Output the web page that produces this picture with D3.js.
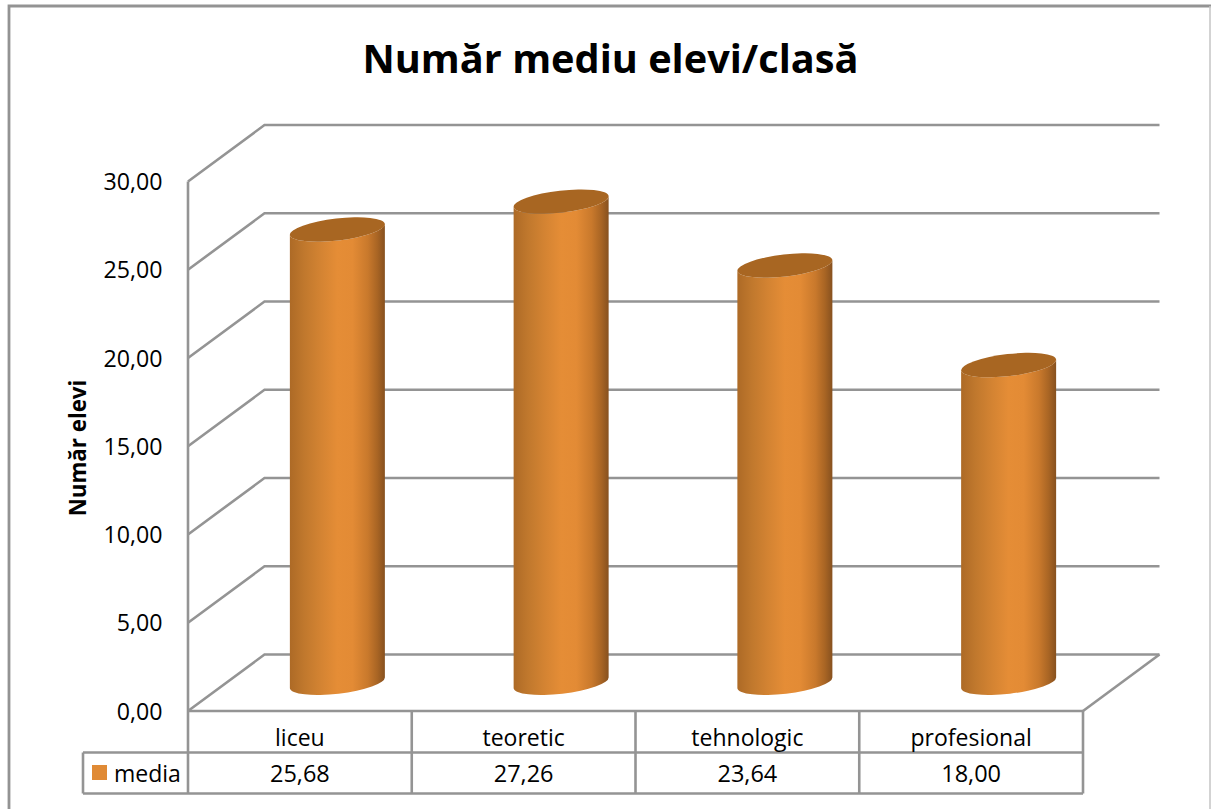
<!DOCTYPE html>
<html><head><meta charset="utf-8">
<script src="https://cdn.jsdelivr.net/npm/d3@7"></script>
<style>html,body{margin:0;padding:0;background:#fff}svg{display:block}text{font-family:"Open Sans",sans-serif;fill:#000}</style>
</head><body><svg id="c" width="1211" height="809"></svg>
<script>
const categories = ["liceu","teoretic","tehnologic","profesional"];
const values = [25.68,27.26,23.64,18.00];
const valueLabels = ["25,68","27,26","23,64","18,00"];
const yTicks = [0,5,10,15,20,25,30];
const seriesName = "media";
const titleText = "Număr mediu elevi/clasă";
const yTitle = "Număr elevi";
const GRID = "#949494";

const svg = d3.select("#c");
const depthX = 76.5, depthY = -56.5;
const x = d3.scaleBand().domain(categories).range([188,1083]);
const y = d3.scaleLinear().domain([0,30]).range([711,181.5]);
const fmt = d => d3.format(".2f")(d).replace(".", ",");

// frame
svg.append("path").attr("d","M9,809V6H1211").attr("fill","none").attr("stroke","#939393").attr("stroke-width",2.8);
svg.append("path").attr("d","M1210,6V809").attr("fill","none").attr("stroke","#c4c4c4").attr("stroke-width",1.5);

// title
svg.append("text").attr("x",610.5).attr("y",73).attr("text-anchor","middle").attr("font-size",39.7).attr("font-weight",700).text(titleText);

// gridlines
const g = svg.append("g").attr("fill","none").attr("stroke",GRID).attr("stroke-width",2.6);
yTicks.forEach(t=>{
  const y0=y(t);
  g.append("path").attr("d",`M188,${y0}L${188+depthX},${y0+depthY}H${1083+depthX}`);
});
g.append("path").attr("d",`M188,${y(30)}V${y(0)}`);
g.append("path").attr("d",`M1083,${y(0)}L${1083+depthX},${y(0)+depthY}`);

// y labels
svg.append("g").selectAll("text").data(yTicks).join("text")
  .attr("x",162.5).attr("y",d=>y(d)+8.5).attr("text-anchor","end").attr("font-size",23.2).text(fmt);
svg.append("text").attr("transform","translate(86,448) rotate(-90)").attr("text-anchor","middle")
  .attr("font-size",22.3).attr("font-weight",700).text(yTitle);

// gradient
const defs = svg.append("defs");
const grad = defs.append("linearGradient").attr("id","cyl");
[[0,"#ad6a26"],[0.15,"#c0782d"],[0.32,"#d38332"],[0.5,"#e58d36"],[0.66,"#e38b35"],[0.82,"#c9792c"],[0.92,"#a96524"],[1,"#87511f"]]
  .forEach(([o,c])=>grad.append("stop").attr("offset",o).attr("stop-color",c));

// cylinders
const rw=47.5, tilt=5.5, rx=Math.hypot(rw,tilt), ry=11, rot=-6.6;
const baseOff = depthY/2;
const cyl = svg.append("g").selectAll("g").data(categories.map((c,i)=>({c,v:values[i]}))).join("g");
const cx = d=>x(d.c)+x.bandwidth()/2+depthX/2-0.75;
cyl.append("path").attr("fill","url(#cyl)").attr("d",d=>{
  const X=cx(d), b=y(0)+baseOff, t=b-(y(0)-y(d.v));
  return `M${X-rw},${t+tilt}V${b+tilt}A${rx},${ry} ${rot} 0 0 ${X+rw},${b-tilt}V${t-tilt}A${rx},${ry} ${rot} 0 1 ${X-rw},${t+tilt}Z`;
});
cyl.append("ellipse").attr("fill","#a86622")
  .attr("rx",rx).attr("ry",ry)
  .attr("transform",d=>`translate(${cx(d)},${y(0)+baseOff-(y(0)-y(d.v))}) rotate(${rot})`);

// data table
const rowMid=752.5, rowBot=793.5, legLeft=83;
const t = svg.append("g").attr("fill","none").attr("stroke",GRID).attr("stroke-width",2.6);
t.append("path").attr("d",`M${legLeft},${rowMid}H1083M${legLeft},${rowBot}H1083M${legLeft},${rowMid}V${rowBot}`);
t.append("path").attr("d",`M188,${y(0)}H1083`);
[...categories.map(c=>x(c)),1083].forEach(p=>t.append("path").attr("d",`M${p},${y(0)}V${rowBot}`));
svg.append("g").selectAll("text").data(categories).join("text")
  .attr("x",d=>x(d)+x.bandwidth()/2).attr("y",745.5).attr("text-anchor","middle").attr("font-size",23).text(d=>d);
svg.append("g").selectAll("text").data(valueLabels).join("text")
  .attr("x",(d,i)=>x(categories[i])+x.bandwidth()/2).attr("y",782).attr("text-anchor","middle").attr("font-size",23.5).text(d=>d);
svg.append("rect").attr("x",92).attr("y",765).attr("width",15).attr("height",15).attr("fill","#e08a35");
svg.append("text").attr("x",114).attr("y",782).attr("font-size",23).text(seriesName);
</script></body></html>
